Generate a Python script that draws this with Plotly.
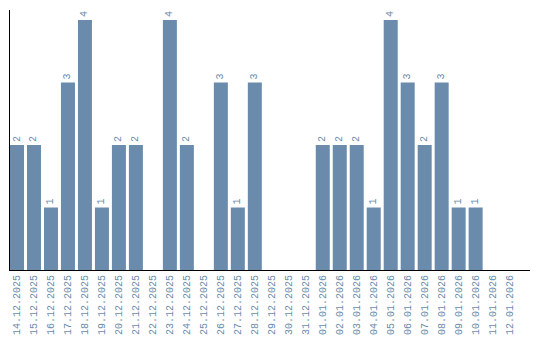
import plotly.graph_objects as go

dates = ["14.12.2025", "15.12.2025", "16.12.2025", "17.12.2025", "18.12.2025",
         "19.12.2025", "20.12.2025", "21.12.2025", "22.12.2025", "23.12.2025",
         "24.12.2025", "25.12.2025", "26.12.2025", "27.12.2025", "28.12.2025",
         "29.12.2025", "30.12.2025", "31.12.2025", "01.01.2026", "02.01.2026",
         "03.01.2026", "04.01.2026", "05.01.2026", "06.01.2026", "07.01.2026",
         "08.01.2026", "09.01.2026", "10.01.2026", "11.01.2026", "12.01.2026"]
counts = [2, 2, 1, 3, 4, 1, 2, 2, 0, 4, 2, 0, 3, 1, 3, 0, 0, 0,
          2, 2, 2, 1, 4, 3, 2, 3, 1, 1, 0, 0]

bar_color = "#6a8bab"
text_color = "#6a8bab"
font_family = "Liberation Mono"

labels = [str(v) if v > 0 else "" for v in counts]

fig = go.Figure(go.Bar(
    x=list(range(len(dates))),
    y=counts,
    marker=dict(color=bar_color, line=dict(width=0)),
    text=labels,
    textposition="outside",
    textangle=-90,
    cliponaxis=False,
    textfont=dict(family=font_family, size=10, color=text_color),
))

fig.update_layout(
    width=540, height=340,
    margin=dict(l=10, r=9.5, t=10, b=70, autoexpand=False),
    paper_bgcolor="white", plot_bgcolor="white",
    bargap=0.176,
    showlegend=False,
    font=dict(family=font_family, size=10, color=text_color),
)
fig.update_xaxes(
    range=[-0.412, 30.2],
    tickmode="array",
    tickvals=list(range(len(dates))),
    ticktext=dates,
    tickangle=-90,
    automargin=False,
    showgrid=False, zeroline=False,
    showline=True, linecolor="black", linewidth=1,
    ticks="", tickfont=dict(family=font_family, size=10, color=text_color),
)
fig.update_yaxes(
    range=[0, 4.16],
    automargin=False,
    showgrid=False, zeroline=False,
    showline=True, linecolor="black", linewidth=1,
    showticklabels=False, ticks="",
)

fig.write_html("out.html")
